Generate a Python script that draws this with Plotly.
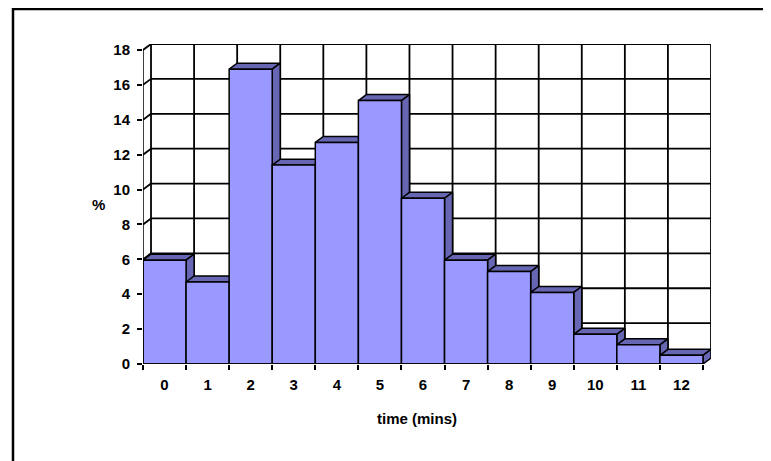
import plotly.graph_objects as go

# ---- data ----
minutes = list(range(13))
tick_labels = [str(m) for m in minutes]
percent = [5.95, 4.7, 16.9, 11.4, 12.7, 15.1, 9.5, 5.95, 5.3, 4.1, 1.7, 1.1, 0.5]
y_ticks = list(range(0, 19, 2))

# ---- style ----
DX = 0.186   # 3-D depth offset (category units)
DY = 0.343   # 3-D depth offset (% units)
FRONT = "#9999FF"
DARK = "#6666B3"
FONT = dict(family="Liberation Sans, Arial, sans-serif", size=15, color="black", weight="bold")

OFF = 8  # page body margin
W, H = 771 - OFF, 461 - OFF
ML, MT = 143 - OFF, 44 - OFF
PW, PH = 568, 320
MR, MB = W - ML - PW, H - MT - PH

xl = minutes[0] - 0.5
xr = minutes[-1] + 0.5
ymax = y_ticks[-1]

fig = go.Figure()

# back wall grid + left wall lines
gx, gy = [], []
for v in y_ticks:
    gx += [xl + DX, xr + DX, None]
    gy += [v + DY, v + DY, None]
for k in range(len(minutes) + 1):
    x = xl + k + DX
    gx += [x, x, None]
    gy += [DY, ymax + DY, None]
for v in y_ticks:
    gx += [xl, xl + DX, None]
    gy += [v, v + DY, None]
fig.add_trace(go.Scatter(x=gx, y=gy, mode="lines", line=dict(color="black", width=1.8),
                         hoverinfo="skip", showlegend=False))

# 3-D bars
for m, v in zip(minutes, percent):
    a, b = m - 0.5, m + 0.5
    top_x = [a, b, b + DX, a + DX, a]
    top_y = [v, v, v + DY, v + DY, v]
    side_x = [b, b + DX, b + DX, b, b]
    side_y = [0, DY, v + DY, v, 0]
    front_x = [a, b, b, a, a]
    front_y = [0, 0, v, v, 0]
    for px, py, col in ((top_x, top_y, DARK), (side_x, side_y, DARK), (front_x, front_y, FRONT)):
        fig.add_trace(go.Scatter(x=px, y=py, mode="lines", fill="toself", fillcolor=col,
                                 line=dict(color="black", width=1.5),
                                 hoverinfo="skip", showlegend=False))

# front axis lines (on overlay axis so it is drawn on top)
fig.add_trace(go.Scatter(x=[xl, xl, None, xl, xr], y=[ymax, 0, None, 0, 0], mode="lines",
                         line=dict(color="black", width=1.5), xaxis="x2",
                         hoverinfo="skip", showlegend=False))

fig.update_layout(
    width=W, height=H,
    margin=dict(l=ML, r=MR, t=MT, b=MB, pad=0, autoexpand=False),
    paper_bgcolor="white", plot_bgcolor="white",
    showlegend=False,
    font=FONT,
    xaxis=dict(range=[xl, xr + DX], tickmode="array", tickvals=minutes, ticktext=tick_labels,
               ticks="", showgrid=False, zeroline=False, showline=False,
               tickfont=FONT, ticklabelstandoff=10),
    xaxis2=dict(range=[xl, xr + DX], overlaying="x", anchor="y", side="bottom",
                tickmode="array", tickvals=[xl + k for k in range(len(minutes) + 1)],
                ticks="outside", ticklen=5, tickwidth=1.5, tickcolor="black",
                showticklabels=False, showgrid=False, zeroline=False, showline=False),
    yaxis=dict(range=[0, ymax + DY], tickmode="array", tickvals=y_ticks,
               ticks="outside", ticklen=5, tickwidth=1.5, tickcolor="black",
               showgrid=False, zeroline=False, showline=False, tickfont=FONT,
               ticklabelstandoff=4),
)

# axis titles
fig.add_annotation(text="%", xref="paper", yref="paper",
                   x=(98 - OFF - ML) / PW, y=(MT + PH - (204 - OFF)) / PH,
                   showarrow=False, font=FONT, xanchor="center", yanchor="middle")
fig.add_annotation(text="time (mins)", xref="paper", yref="paper",
                   x=(417 - OFF - ML) / PW, y=(MT + PH - (418 - OFF)) / PH,
                   showarrow=False, font=FONT, xanchor="center", yanchor="middle")

# outer chart frame (cropped at right and bottom)
fig.add_shape(type="rect", xref="paper", yref="paper",
              x0=(13 - OFF - ML) / PW, x1=(W + 10 - ML) / PW,
              y0=(MT + PH - (H + 10)) / PH, y1=(MT + PH - (9 - OFF)) / PH,
              line=dict(color="black", width=2.5), fillcolor="rgba(0,0,0,0)", layer="above")

fig.write_html("out.html")
